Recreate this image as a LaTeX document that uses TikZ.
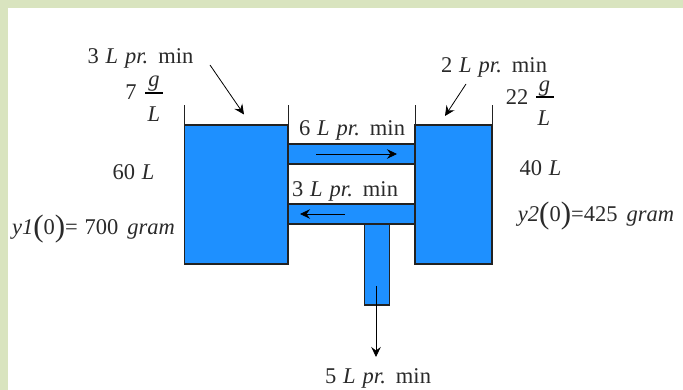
\documentclass[tikz,border=0pt]{standalone}
\usepackage{fontspec}
\setmainfont{Liberation Serif}
\usetikzlibrary{arrows.meta}
\newcommand{\rate}[1]{#1\hspace{0.3em}\textit{L\hspace{0.32em}pr.}\hspace{0.45em}min}
\newcommand{\bigp}[1]{\raisebox{-1.5pt}{\fontsize{31}{31}\selectfont #1}}
\tikzset{
  water/.style={fill=wblue,draw=wline,line width=1.2pt},
  wall/.style={draw=wline,line width=1pt},
  lab/.style={inner sep=0pt,anchor=base,font=\fontsize{22.5}{24}\selectfont,text=txt},
  bar/.style={draw=black,line width=1.6pt},
  flow/.style={draw=black,line width=0.8pt,-{Stealth[length=10pt,width=9.5pt,inset=3.5pt]}}
}
\definecolor{wblue}{HTML}{1E90FF}
\definecolor{wline}{HTML}{222222}
\definecolor{txt}{HTML}{2A2A2A}
\definecolor{bgreen}{HTML}{D9E4BF}
\begin{document}
\begin{tikzpicture}[x=1pt,y=-1pt]
\useasboundingbox (0,0) rectangle (683,390);
\fill[bgreen] (0,0) rectangle (683,390);
\fill[white] (8,8) rectangle (683,390);
% tanks and pipes
\draw[water] (288,144) rectangle (415,164);
\draw[water] (288,204) rectangle (415,224);
\draw[water] (364.5,224) rectangle (389.5,305);
\draw[water] (184.5,125) rectangle (288,264);
\draw[water] (415,125) rectangle (492,264);
\draw[wall] (184.5,125) -- (184.5,105);
\draw[wall] (288,125) -- (288,105);
\draw[wall] (415,125) -- (415,105);
\draw[wall] (492,125) -- (492,105);
% labels
\node[lab] (a) at (140.5,64) {\rate{3}};
\node[lab] (b) at (131,100) {7};
\node[lab] (bg) at (154,87) {\textit{g}};
\node[lab] (bl) at (154,122) {\textit{L}};
\node[lab] (c) at (133.5,180) {60\hspace{0.3em}\textit{L}};
\node[lab] (d) at (93.5,235) {\textit{y1}\bigp{(}0\bigp{)}=\hspace{0.3em}700\hspace{0.4em}\textit{gram}};
\node[lab] (e) at (494,73) {\rate{2}};
\node[lab] (f) at (517,105) {22};
\node[lab] (fg) at (544.5,92) {\textit{g}};
\node[lab] (fl) at (544,126) {\textit{L}};
\node[lab] (g) at (540.5,176) {40\hspace{0.3em}\textit{L}};
\node[lab] (h) at (596,222) {\textit{y2}\bigp{(}0\bigp{)}=425\hspace{0.4em}\textit{gram}};
\node[lab] (i) at (352,136) {\rate{6}};
\node[lab] (j) at (345,197) {\rate{3}};
\node[lab] (k) at (378,383) {\rate{5}};
% fraction bars
\coordinate (p1) at (145,93); \coordinate (p2) at (163,93);
\coordinate (q1) at (536,97); \coordinate (q2) at (554,97);
\draw[bar] (p1) -- (p2);
\draw[bar] (q1) -- (q2);
% connectors
\coordinate (a1) at (210,65); \coordinate (a2) at (244,114.5);
\coordinate (b1) at (466,84); \coordinate (b2) at (445,116);
\coordinate (c1) at (316,154); \coordinate (c2) at (397,154);
\coordinate (d1) at (345,214); \coordinate (d2) at (300,214);
\coordinate (e1) at (376,286); \coordinate (e2) at (376,357);
\draw[flow] (a1) -- (a2);
\draw[flow] (b1) -- (b2);
\draw[flow] (c1) -- (c2);
\draw[flow] (d1) -- (d2);
\draw[flow] (e1) -- (e2);
\end{tikzpicture}
\end{document}
